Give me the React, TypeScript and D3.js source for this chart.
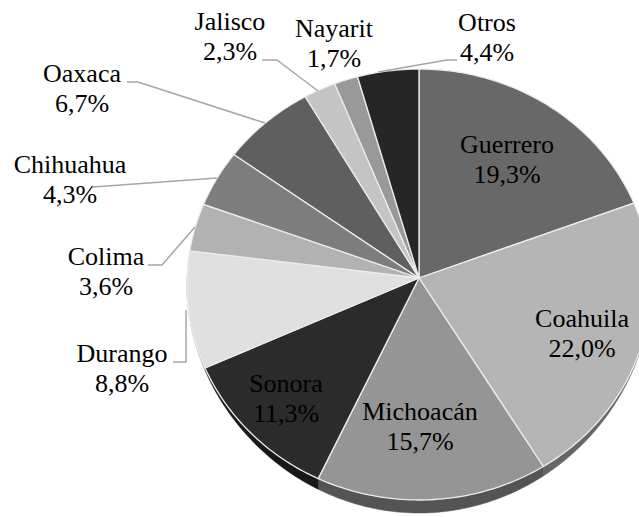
import React from 'react';
import * as d3 from 'd3';

const states = ['Guerrero', 'Coahuila', 'Michoacán', 'Sonora', 'Durango', 'Colima', 'Chihuahua', 'Oaxaca', 'Jalisco', 'Nayarit', 'Otros'];
const shares = [19.3, 22.0, 15.7, 11.3, 8.8, 3.6, 4.3, 6.7, 2.3, 1.7, 4.4];
const shareLabels = ['19,3%', '22,0%', '15,7%', '11,3%', '8,8%', '3,6%', '4,3%', '6,7%', '2,3%', '1,7%', '4,4%'];

// styling / layout (not data)
const fills = ['#686868', '#b5b5b5', '#959595', '#2b2b2b', '#e0e0e0', '#b2b2b2', '#7d7d7d', '#5f5f5f', '#c4c4c4', '#999999', '#262626'];
const labelPos: [number, number][] = [
  [507, 153], [582, 327], [420, 420], [286, 392], [122, 362], [106, 265],
  [70, 173], [82, 82], [230, 30], [334, 37], [487, 31],
];
const leaders: ([number, number][] | null)[] = [
  null, null, null, null,
  [[173, 362], [186, 362], [186, 310]],
  [[148, 265], [162, 265], [195, 227]],
  [[93, 187], [217, 178]],
  [[127, 82], [138, 82], [265, 123]],
  [[262, 60], [277, 60], [318, 91]],
  null,
  [[457, 60], [447, 60], [378, 72]],
];

const W = 639, H = 517;
const CX = 419, CY = 278, A = 232, B = 215.3, K = 0.0302;

function proj(theta: number, dy = 0): [number, number] {
  const u = Math.sin(theta), v = -Math.cos(theta);
  const den = 1 - K * v;
  return [CX + (A * u) / den, CY + (B * v) / den + dy];
}
function depth(theta: number) {
  const v = -Math.cos(theta);
  return v > 0 ? 13 * v * v : 0;
}

export default function App() {
  const pie = d3.pie<number>().sort(null).startAngle(0).endAngle(2 * Math.PI);
  const arcs = pie(shares);
  const line = d3.line<[number, number]>().x(d => d[0]).y(d => d[1]);

  const arcPts = (a0: number, a1: number, off?: (t: number) => number) => {
    const n = Math.max(2, Math.ceil(((a1 - a0) / (2 * Math.PI)) * 360));
    const pts: [number, number][] = [];
    for (let i = 0; i <= n; i++) {
      const t = a0 + ((a1 - a0) * i) / n;
      pts.push(proj(t, off ? off(t) : 0));
    }
    return pts;
  };

  const walls: JSX.Element[] = [];
  const faces: JSX.Element[] = [];
  arcs.forEach((a, i) => {
    const w0 = Math.max(a.startAngle, Math.PI / 2);
    const w1 = Math.min(a.endAngle, (3 * Math.PI) / 2);
    if (w1 > w0) {
      const top = arcPts(w0, w1);
      const bot = arcPts(w0, w1, depth).reverse();
      const wc = d3.color(fills[i])!.darker(1.6).formatHex();
      walls.push(<path key={'w' + i} d={line([...top, ...bot])! + 'Z'} fill={wc} stroke={wc} strokeWidth={0.5} />);
    }
    const pts: [number, number][] = [[CX, CY], ...arcPts(a.startAngle, a.endAngle)];
    faces.push(<path key={'f' + i} d={line(pts)! + 'Z'} fill={fills[i]} stroke="#ececec" strokeWidth={1.3} strokeLinejoin="round" />);
  });

  const txtStyle = { fontFamily: '"Liberation Serif"' };

  return (
    <svg width={W} height={H} style={{ position: 'absolute', left: 0, top: 0, display: 'block', background: '#fff' }}>
      <rect width={W} height={H} fill="#fff" />
      <g>{walls}</g>
      <g>{faces}</g>
      <g fill="none" stroke="#a6a6a6" strokeWidth={1.5}>
        {leaders.map((l, i) => (l ? <path key={'l' + i} d={line(l)!} /> : null))}
      </g>
      {states.map((s, i) => (
        <text key={'a' + i} x={labelPos[i][0]} y={labelPos[i][1]} fontSize={26} fill="#000" textAnchor="middle" style={txtStyle}>
          {s}
        </text>
      ))}
      {shareLabels.map((s, i) => (
        <text key={'b' + i} x={labelPos[i][0]} y={labelPos[i][1] + 30} fontSize={26} fill="#000" textAnchor="middle" style={txtStyle}>
          {s}
        </text>
      ))}
    </svg>
  );
}
